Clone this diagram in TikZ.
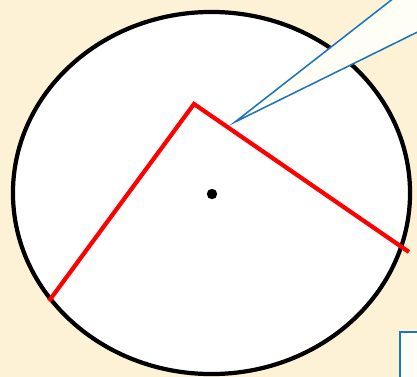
\documentclass[tikz,border=0pt]{standalone}
\usepackage{xcolor}
\usepackage{tikz}
\usetikzlibrary{calc}
\definecolor{paperCream}{HTML}{FDF2D6}
\definecolor{noteBlue}{HTML}{1C75BC}
\definecolor{noteFill}{HTML}{FFFEF4}
\definecolor{armRed}{HTML}{FF0000}

\begin{document}
\begin{tikzpicture}[x=0.025cm, y=-0.025cm]
  \useasboundingbox (0,0) rectangle (417,377);
  \clip (0,0) rectangle (417,377);
  \fill[paperCream] (0,0) rectangle (417,377);
  % the circle and its centre
  \coordinate (ctr) at (212,194);
  \draw[line width=3pt, fill=white] (211.5,193) ellipse [x radius=4.9625cm, y radius=4.525cm];
  \fill (ctr) circle (0.13cm);
  % the angle
  \coordinate (left) at (49,301);
  \coordinate (apex) at (194,104);
  \coordinate (right) at (409,252);
  \draw[armRed, line width=3pt] (left) -- (apex) -- (right);
  % callout pointer and box
  \coordinate (tip) at (235,122);
  \filldraw[noteBlue, fill=noteFill, line width=1.1pt] (tip) -- (417,-20) -- (450,-20) -- (450,16) -- cycle;
  \filldraw[noteBlue, fill=noteFill, line width=1.5pt] (400,332) rectangle (450,400);
\end{tikzpicture}
\end{document}
